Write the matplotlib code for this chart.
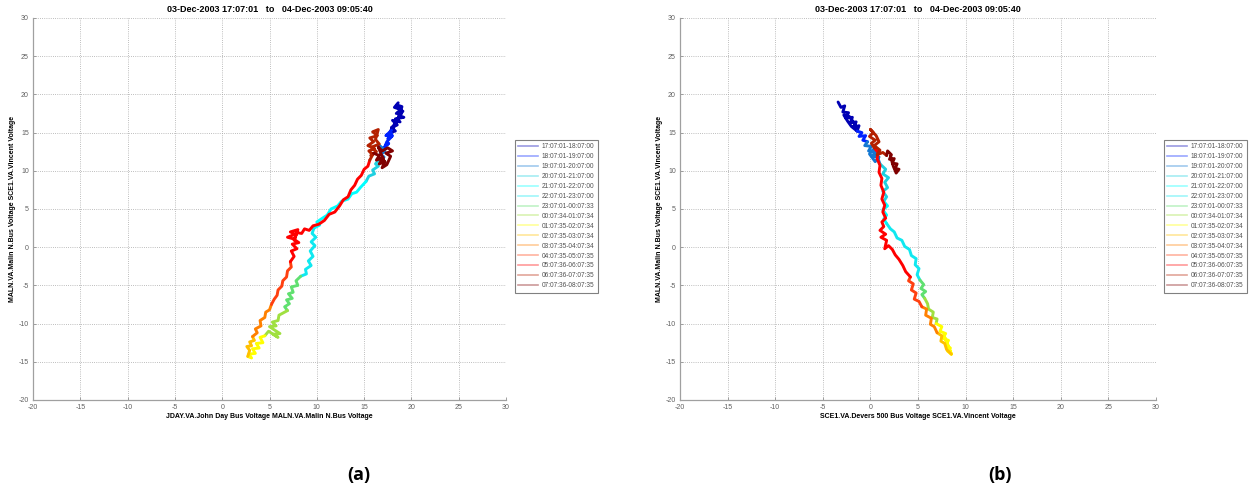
import matplotlib.pyplot as plt
from matplotlib.lines import Line2D

# hourly windows of the recording
windows = ['17:07:01-18:07:00', '18:07:01-19:07:00', '19:07:01-20:07:00',
           '20:07:01-21:07:00', '21:07:01-22:07:00', '22:07:01-23:07:00',
           '23:07:01-00:07:33', '00:07:34-01:07:34', '01:07:35-02:07:34',
           '02:07:35-03:07:34', '03:07:35-04:07:34', '04:07:35-05:07:35',
           '05:07:36-06:07:35', '06:07:36-07:07:35', '07:07:36-08:07:35']
seg_colors = ['#0000b4', '#0022ff', '#1478d2', '#20d0e0', '#00ffff', '#10e8f0',
              '#60e070', '#a0e040', '#ffff00', '#ffc000', '#ff8000', '#ff4010',
              '#ff0000', '#b42000', '#800000']

# (a) JDAY-MALN vs MALN-SCE1 angle trajectory, one list of (x, y) per hour
traj_a = [
    [(18.6, 18.9), (18.2, 18.3), (18.9, 18.0), (18.4, 17.5), (19.1, 17.8), (18.7, 17.2), (19.2, 17.0),
     (18.3, 16.8), (18.8, 16.4), (18.0, 16.6), (18.5, 16.0), (17.9, 15.7), (18.3, 15.2), (17.7, 15.0),
     (18.1, 15.9), (18.6, 16.9), (19.0, 18.4), (18.5, 18.6), (18.9, 17.4), (18.4, 16.2), (17.9, 15.3)],
    [(17.9, 15.3), (17.3, 14.6), (17.9, 14.9), (17.5, 14.2), (18.0, 14.6), (17.4, 13.8), (17.2, 13.2),
     (17.6, 13.6), (17.0, 12.9)],
    [(17.0, 12.9), (16.6, 13.3), (17.2, 12.5), (16.7, 12.2), (17.1, 11.8), (16.6, 11.5)],
    [(16.6, 11.5), (16.2, 10.9), (16.5, 10.6), (15.9, 10.1), (16.1, 9.6), (15.5, 9.3), (15.2, 8.6)],
    [(15.2, 8.6), (14.6, 7.8), (14.2, 7.2), (13.7, 7.0), (13.3, 6.3), (12.6, 6.0), (12.2, 5.4),
     (11.5, 5.0), (11.1, 4.2), (10.6, 3.8), (10.0, 3.3), (10.3, 2.9), (9.7, 2.5)],
    [(9.7, 2.5), (9.5, 1.8), (9.9, 1.3), (9.4, 0.7), (9.8, 0.2), (9.3, -0.5), (9.6, -1.2), (9.1, -1.8),
     (9.4, -2.4), (8.8, -2.9), (8.9, -3.5), (8.3, -3.8)],
    [(8.3, -3.8), (7.8, -4.4), (8.0, -5.0), (7.3, -5.2), (7.5, -5.9), (7.0, -6.1), (7.4, -6.7),
     (6.8, -6.9), (7.1, -7.4), (6.6, -7.8), (6.9, -8.3)],
    [(6.9, -8.3), (6.0, -8.9), (5.9, -9.6), (5.3, -9.8), (5.7, -10.3), (5.0, -10.4), (5.6, -10.9),
     (6.1, -11.3), (5.4, -11.4), (5.9, -11.8), (4.9, -11.0), (4.5, -11.6)],
    [(4.5, -11.6), (4.0, -11.8), (4.3, -12.5), (3.6, -12.6), (3.9, -13.2), (3.2, -13.3), (3.5, -13.9),
     (2.8, -14.0), (3.1, -14.5), (2.7, -14.3)],
    [(2.7, -14.3), (2.9, -13.5), (2.6, -13.0), (3.1, -12.9), (2.9, -12.4), (3.4, -12.2), (3.2, -11.7)],
    [(3.2, -11.7), (3.7, -11.2), (3.5, -10.7), (4.1, -10.3), (4.0, -9.6), (4.5, -9.2), (4.6, -8.5),
     (5.0, -8.2), (5.2, -7.5)],
    [(5.2, -7.5), (5.5, -6.8), (5.8, -6.3), (5.9, -5.6), (6.3, -5.1), (6.4, -4.4), (6.8, -3.9),
     (6.9, -3.1), (7.3, -2.6), (7.2, -1.9)],
    [(7.2, -1.9), (7.6, -1.2), (7.3, -0.5), (7.9, -0.2), (7.4, 0.4), (8.1, 0.6), (7.5, 1.1), (6.9, 1.3),
     (7.7, 1.7), (7.2, 2.0), (8.0, 2.3), (7.6, 0.9), (7.9, 1.9), (8.4, 1.8), (8.7, 2.4), (9.2, 2.2),
     (9.6, 2.8), (10.2, 3.0), (10.8, 3.5), (11.3, 4.3), (11.9, 4.6), (12.4, 5.4), (12.8, 6.2),
     (13.3, 6.6), (13.6, 7.5), (14.0, 8.1), (14.3, 8.9), (14.7, 9.4), (15.0, 10.2), (15.4, 10.6),
     (15.6, 11.4)],
    [(15.6, 11.4), (15.9, 12.1), (15.5, 12.6), (16.1, 12.9), (15.4, 13.3), (16.0, 13.8), (15.6, 14.3),
     (16.4, 14.6), (15.9, 15.1), (16.5, 15.4), (16.2, 14.1), (16.6, 13.5), (15.8, 13.1), (16.3, 12.5),
     (15.7, 12.0), (16.0, 12.3)],
    [(16.0, 12.3), (16.6, 12.0), (16.3, 11.4), (17.0, 11.7), (16.6, 10.9), (17.2, 11.2), (16.9, 10.4),
     (17.4, 10.8), (17.8, 11.9), (17.3, 12.3), (18.0, 12.6), (17.5, 13.0), (16.9, 12.6), (16.5, 13.1),
     (17.1, 11.3), (16.7, 11.6)],
]

# (b) SCE1 Devers-Vincent vs MALN-SCE1 angle trajectory
traj_b = [
    [(-3.4, 19.0), (-3.1, 18.3), (-2.7, 18.5), (-2.9, 17.7), (-2.3, 17.6), (-2.6, 16.9), (-1.9, 17.0),
     (-2.1, 16.3), (-1.5, 16.4), (-1.8, 15.7), (-1.2, 15.9), (-1.4, 15.2), (-2.0, 15.8), (-2.4, 16.5),
     (-2.8, 17.3), (-2.2, 17.1), (-1.6, 16.0), (-1.4, 15.2)],
    [(-1.4, 15.2), (-0.9, 15.0), (-1.2, 14.5), (-0.5, 14.6), (-0.8, 14.0), (-0.3, 13.8)],
    [(-0.3, 13.8), (-0.6, 13.3), (0.1, 13.2), (-0.2, 12.6), (0.5, 12.5), (0.2, 11.9), (0.9, 11.8),
     (0.5, 11.2), (-0.1, 12.2), (0.4, 12.9), (1.0, 10.9)],
    [(1.0, 10.9), (1.6, 10.2), (1.3, 9.6), (1.9, 9.1), (1.5, 8.5), (1.8, 7.8), (1.3, 7.3), (1.7, 6.6),
     (1.4, 6.0)],
    [(1.4, 6.0), (1.8, 5.4), (1.3, 4.9), (1.7, 4.2), (1.4, 3.7), (1.7, 3.1)],
    [(1.7, 3.1), (2.1, 2.4), (2.5, 2.0), (2.8, 1.2), (3.3, 0.9), (3.6, 0.1), (4.1, -0.3), (4.3, -1.1),
     (4.8, -1.5), (4.7, -2.3), (5.1, -2.8), (4.9, -3.6), (5.2, -4.3)],
    [(5.2, -4.3), (5.6, -4.9), (5.3, -5.4), (5.8, -5.8), (5.4, -6.2), (5.7, -6.7)],
    [(5.7, -6.7), (6.0, -7.4), (6.1, -8.1), (6.6, -8.5), (6.5, -9.2), (7.0, -9.4), (6.9, -10.0)],
    [(6.9, -10.0), (7.5, -10.4), (7.3, -11.0), (7.9, -11.3), (7.6, -11.9), (8.2, -12.2), (7.9, -12.8),
     (8.4, -13.2), (8.1, -13.6), (8.5, -14.0), (8.0, -12.4), (7.7, -11.5), (8.2, -13.0), (8.5, -14.0)],
    [(8.5, -14.0), (8.0, -13.4), (7.8, -12.6), (7.4, -12.3), (7.5, -11.6), (7.0, -11.2)],
    [(7.0, -11.2), (6.7, -10.4), (6.3, -10.1), (6.4, -9.3), (5.8, -8.9), (5.9, -8.1), (5.4, -7.8)],
    [(5.4, -7.8), (5.1, -7.1), (4.6, -6.8), (4.8, -6.0), (4.3, -5.6), (4.5, -4.8), (4.0, -4.4), (4.2, -3.9)],
    [(4.2, -3.9), (3.7, -3.2), (3.4, -2.4), (3.0, -1.6), (2.6, -1.0), (2.3, -0.3), (1.9, 0.2), (1.5, -0.2),
     (1.7, 0.9), (1.1, 1.3), (1.6, 1.7), (1.0, 2.2), (1.4, 2.7), (1.2, 3.3), (1.6, 3.8), (1.3, 4.6),
     (1.5, 5.5), (1.2, 6.3), (1.4, 7.2), (1.1, 8.1), (1.2, 9.0), (0.9, 9.8), (1.0, 10.7), (0.7, 11.6),
     (0.8, 12.4), (0.4, 13.0)],
    [(0.4, 13.0), (0.1, 13.6), (0.5, 14.0), (-0.1, 14.5), (0.3, 15.0), (0.0, 15.4), (0.6, 14.6),
     (0.9, 13.8), (0.4, 13.3), (1.0, 12.7), (0.7, 12.1), (1.3, 12.4), (1.7, 12.0)],
    [(1.7, 12.0), (1.8, 12.6), (2.2, 12.1), (2.0, 11.5), (2.5, 11.6), (2.3, 11.0), (2.8, 10.9),
     (2.6, 10.3), (3.0, 10.2), (2.7, 9.7), (2.4, 10.6), (2.1, 11.9)],
]

ticks = [-20, -15, -10, -5, 0, 5, 10, 15, 20, 25, 30]
title = '03-Dec-2003 17:07:01   to   04-Dec-2003 09:05:40'
ylab = 'MALN.VA.Malin N.Bus Voltage SCE1.VA.Vincent Voltage'
xlab_a = 'JDAY.VA.John Day Bus Voltage MALN.VA.Malin N.Bus Voltage'
xlab_b = 'SCE1.VA.Devers 500 Bus Voltage SCE1.VA.Vincent Voltage'

plt.rcParams['font.family'] = ['Liberation Sans', 'DejaVu Sans']
plt.rcParams['axes.unicode_minus'] = False

fig = plt.figure(figsize=(12.51, 4.97), dpi=100)


def draw_panel(rect, traj, xlab, legend_x, tag, tag_x):
    ax = fig.add_axes(rect)
    for pts, c in zip(traj, seg_colors):
        xs = [p[0] for p in pts]
        ys = [p[1] for p in pts]
        ax.plot(xs, ys, color=c, lw=2.1, solid_joinstyle='round', solid_capstyle='round')
    ax.set_xlim(-20, 30)
    ax.set_ylim(-20, 30)
    ax.set_xticks(ticks)
    ax.set_yticks(ticks)
    ax.grid(True, color='#a8a8a8', lw=0.6, linestyle=(0, (1, 1.6)))
    ax.set_axisbelow(True)
    for s in ['top', 'right']:
        ax.spines[s].set_visible(False)
    for s in ['left', 'bottom']:
        ax.spines[s].set_color('#a0a0a0')
        ax.spines[s].set_linewidth(0.9)
    ax.tick_params(direction='in', length=2.5, width=0.6, color='#909090',
                   labelsize=5, labelcolor='#606060', pad=3)
    ax.set_title(title, fontsize=6.5, fontweight='bold', pad=4)
    ax.set_xlabel(xlab, fontsize=5, fontweight='bold', labelpad=1)
    ax.set_ylabel(ylab, fontsize=5, fontweight='bold', labelpad=2)

    handles = [Line2D([], [], color=c, lw=1.2, alpha=0.4) for c in seg_colors]
    leg = fig.legend(handles, windows, loc='upper left', bbox_to_anchor=(legend_x, 0.725),
                     fontsize=4.7, labelspacing=0.45, handlelength=3.0, handletextpad=0.6,
                     borderpad=0.5, fancybox=False, framealpha=1)
    leg.get_frame().set_edgecolor('#808080')
    leg.get_frame().set_linewidth(0.8)
    for t in leg.get_texts():
        t.set_color('#505050')

    fig.text(tag_x, 0.035, tag, fontsize=13, fontweight='bold', ha='center',
             family=['Open Sans', 'DejaVu Sans'])
    return ax


draw_panel([0.0264, 0.1952, 0.3781, 0.7686], traj_a, xlab_a, 0.409, '(a)', 0.287)
draw_panel([0.5436, 0.1952, 0.3805, 0.7686], traj_b, xlab_b, 0.928, '(b)', 0.799)

fig.savefig('out.png', dpi=100)
